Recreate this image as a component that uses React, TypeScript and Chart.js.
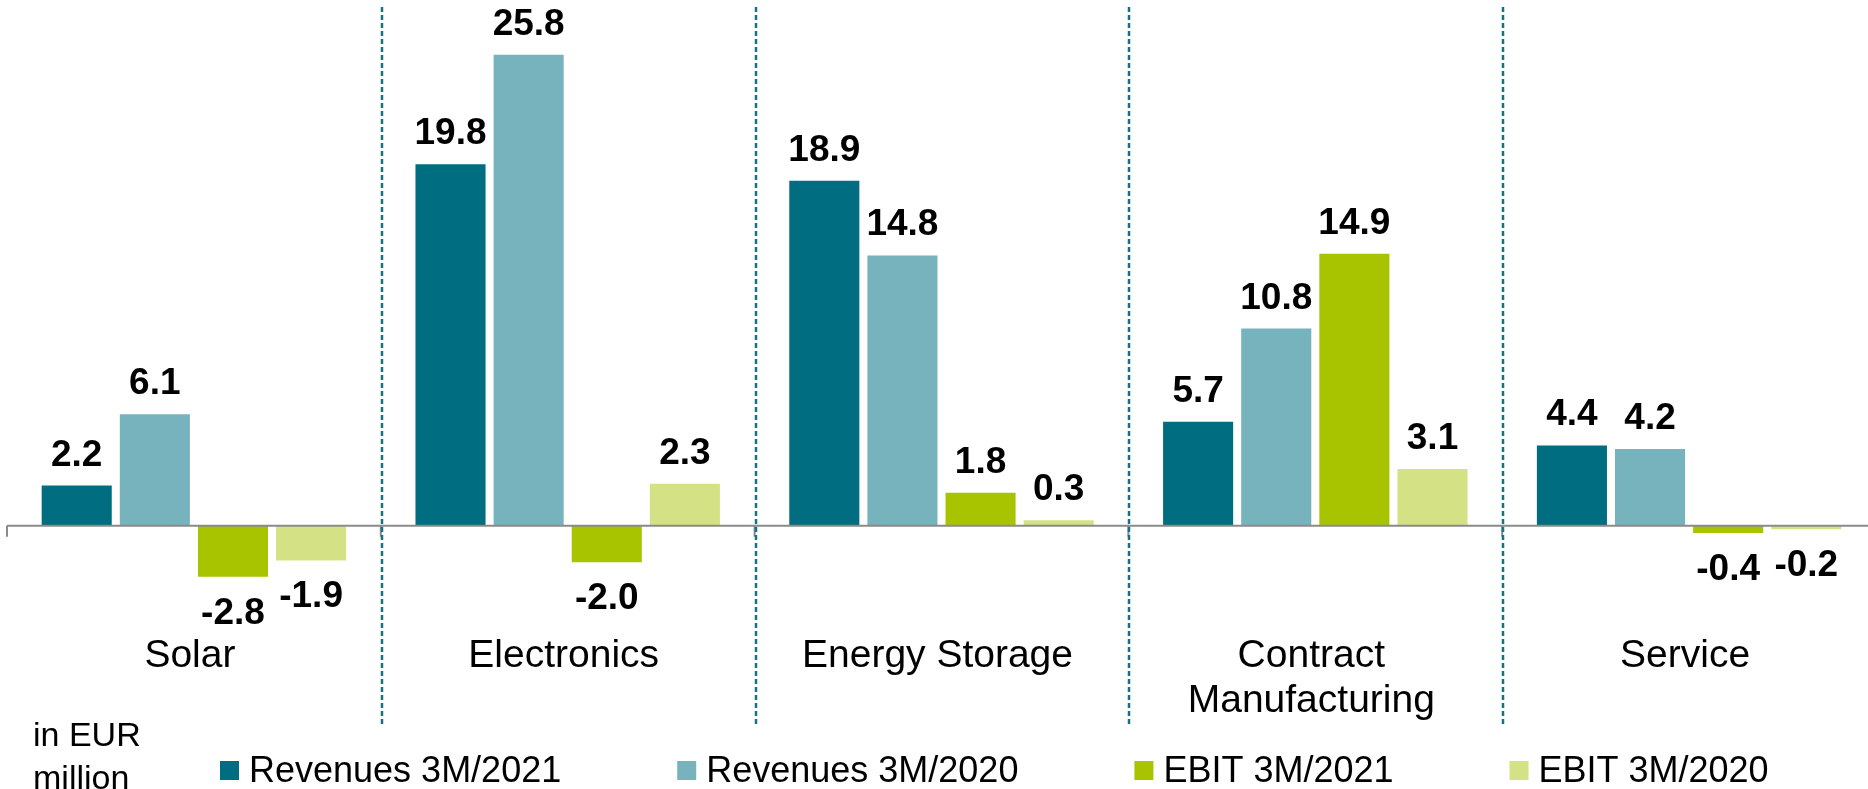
import React, { useEffect, useRef } from 'react';
import { Chart, registerables } from 'chart.js';

Chart.register(...registerables);

const categories: string[][] = [['Solar'], ['Electronics'], ['Energy Storage'], ['Contract', 'Manufacturing'], ['Service']];
const revenues2021 = [2.2, 19.8, 18.9, 5.7, 4.4];
const revenues2020 = [6.1, 25.8, 14.8, 10.8, 4.2];
const ebit2021 = [-2.8, -2.0, 1.8, 14.9, -0.4];
const ebit2020 = [-1.9, 2.3, 0.3, 3.1, -0.2];
const seriesLabels = ['Revenues 3M/2021', 'Revenues 3M/2020', 'EBIT 3M/2021', 'EBIT 3M/2020'];
const seriesColors = ['#006d80', '#76b3bd', '#a8c400', '#d4e285'];
const unitLines = ['in EUR', 'million'];

const FONT = "'Liberation Sans', Arial, sans-serif";

const overlayPlugin = {
  id: 'overlay',
  afterDatasetsDraw(chart: any) {
    const { ctx, chartArea } = chart;
    const xs = chart.scales.x;
    const ys = chart.scales.y;
    const y0 = ys.getPixelForValue(0);
    const n = categories.length;
    const step = xs.getPixelForValue(1) - xs.getPixelForValue(0);
    ctx.save();

    // baseline
    ctx.strokeStyle = '#8a8a8a';
    ctx.lineWidth = 2;
    ctx.beginPath();
    ctx.moveTo(chartArea.left, y0);
    ctx.lineTo(chartArea.right, y0);
    ctx.stroke();

    // ticks at category boundaries
    for (let i = 0; i < n; i++) {
      const bx = xs.getPixelForValue(i) - step / 2;
      ctx.beginPath();
      ctx.moveTo(bx, y0);
      ctx.lineTo(bx, y0 + 11);
      ctx.stroke();
    }

    // dashed dividers
    ctx.strokeStyle = '#167286';
    ctx.lineWidth = 2.5;
    ctx.setLineDash([5, 3]);
    for (let i = 1; i < n; i++) {
      const bx = Math.round(xs.getPixelForValue(i) - step / 2) + 1;
      ctx.beginPath();
      ctx.moveTo(bx, chartArea.top);
      ctx.lineTo(bx, chartArea.bottom);
      ctx.stroke();
    }
    ctx.setLineDash([]);

    // value labels
    ctx.fillStyle = '#000';
    ctx.font = `bold 37px ${FONT}`;
    ctx.textAlign = 'center';
    ctx.textBaseline = 'alphabetic';
    chart.data.datasets.forEach((ds: any, di: number) => {
      const meta = chart.getDatasetMeta(di);
      meta.data.forEach((bar: any, i: number) => {
        const v = ds.data[i];
        const txt = v.toFixed(1);
        if (v >= 0) {
          ctx.fillText(txt, bar.x, bar.y - 20);
        } else {
          ctx.fillText(txt, bar.x, bar.y + 47);
        }
      });
    });

    // category labels
    ctx.font = `39px ${FONT}`;
    categories.forEach((lines, i) => {
      const cx = xs.getPixelForValue(i) - 4;
      lines.forEach((ln, li) => {
        ctx.fillText(ln, cx, 667 + li * 45);
      });
    });

    // unit text
    ctx.textAlign = 'left';
    ctx.font = `34px ${FONT}`;
    unitLines.forEach((ln, li) => ctx.fillText(ln, 33, 746 + li * 43));

    // legend
    ctx.font = `36px ${FONT}`;
    let lx = 220;
    seriesLabels.forEach((lab, i) => {
      ctx.fillStyle = seriesColors[i];
      ctx.fillRect(lx, 761, 19, 19);
      ctx.fillStyle = '#000';
      ctx.fillText(lab, lx + 29, 782);
      lx += 29 + ctx.measureText(lab).width + 116;
    });

    ctx.restore();
  },
};

export default function App() {
  const ref = useRef<HTMLCanvasElement>(null);
  useEffect(() => {
    if (!ref.current) return;
    const chart = new Chart(ref.current, {
      type: 'bar',
      data: {
        labels: categories.map((c) => c.join(' ')),
        datasets: [revenues2021, revenues2020, ebit2021, ebit2020].map((d, i) => ({
          label: seriesLabels[i],
          data: d,
          backgroundColor: seriesColors[i],
          borderWidth: 0,
          categoryPercentage: 0.836,
          barPercentage: 0.897,
        })),
      },
      options: {
        responsive: false,
        animation: false,
        devicePixelRatio: 1,
        layout: { padding: { left: 7, right: 0, top: 7, bottom: 65 } },
        plugins: { legend: { display: false }, tooltip: { enabled: false } },
        scales: {
          x: { display: false, offset: true },
          y: { display: false, min: -10.86, max: 28.41 },
        },
      },
      plugins: [overlayPlugin],
    });
    return () => chart.destroy();
  }, []);
  return (
    <div style={{ position: 'absolute', left: 0, top: 0, width: 1868, height: 789, overflow: 'hidden', background: '#fff' }}>
      <canvas ref={ref} width={1876} height={789} style={{ display: 'block' }} />
    </div>
  );
}
